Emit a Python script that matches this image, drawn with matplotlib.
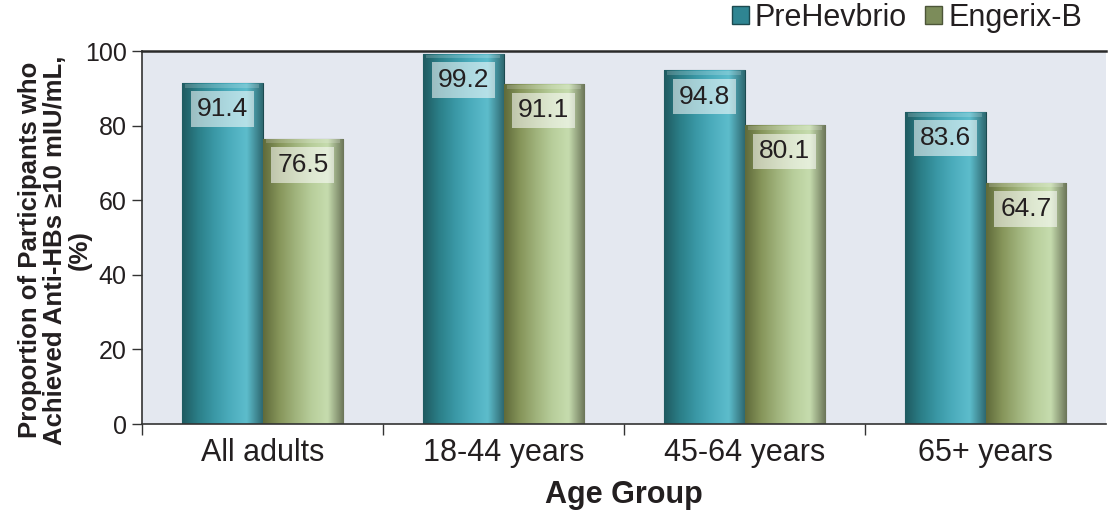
import numpy as np
import matplotlib.pyplot as plt
from matplotlib.colors import LinearSegmentedColormap
from matplotlib.patches import Patch

groups = ["All adults", "18-44 years", "45-64 years", "65+ years"]
prehevbrio = [91.4, 99.2, 94.8, 83.6]
engerix = [76.5, 91.1, 80.1, 64.7]

txt = "#231f20"
plt.rcParams["font.family"] = ["Liberation Sans", "DejaVu Sans"]

# shaded "cylinder" look for each series, dark left edge to light right edge
blue_cm = LinearSegmentedColormap.from_list(
    "blue", ["#1f5a60", "#2b7f88", "#3a98a6", "#4cadbd", "#5dbdcc", "#2e6870"])
green_cm = LinearSegmentedColormap.from_list(
    "green", ["#5f6a3a", "#86955a", "#a0b37c", "#b8ce9b", "#c6dcae", "#6b7558"])

fig = plt.figure(figsize=(11.08, 5.11), dpi=100)
ax = fig.add_axes([142 / 1108, 1 - 424 / 511, 964 / 1108, 373 / 511])
ax.set_facecolor("#e4e8f0")

x = np.arange(len(groups))
w = 0.335
bars_a = ax.bar(x - w / 2, prehevbrio, w, color="#3a96a4", edgecolor="#1c4a50",
                linewidth=0.8, zorder=2)
bars_b = ax.bar(x + w / 2, engerix, w, color="#9fb27a", edgecolor="#4c5538",
                linewidth=0.8, zorder=2)

grad = np.linspace(0, 1, 256).reshape(1, -1)
for bars, cm in ((bars_a, blue_cm), (bars_b, green_cm)):
    for p in bars:
        x0, h, bw = p.get_x(), p.get_height(), p.get_width()
        im = ax.imshow(grad, cmap=cm, aspect="auto", extent=[x0, x0 + bw, 0, h],
                       zorder=2.5, interpolation="bicubic")
        im.set_clip_path(p)
        # lighter strip along the top edge
        ax.fill_between([x0 + bw * 0.04, x0 + bw * 0.96], h - 1.2, h - 0.2,
                        color="white", alpha=0.18, lw=0, zorder=2.6)
        ax.text(x0 + bw / 2, h - 7, f"{h:.1f}", ha="center", va="center",
                fontsize=19, color=txt, zorder=4,
                bbox=dict(boxstyle="square,pad=0.22", fc="white", ec="none",
                          alpha=0.55))

ax.set_xlim(-0.5, 3.5)
ax.set_ylim(0, 100)
ax.set_yticks(range(0, 101, 20))
ax.set_xticks(x)
ax.set_xticklabels(groups)
ax.set_xticks(np.arange(-0.5, 3.0, 1), minor=True)
ax.tick_params(axis="x", which="major", length=0, pad=10, labelsize=22,
               labelcolor=txt)
ax.tick_params(axis="x", which="minor", length=8, width=1, color="#333333")
ax.tick_params(axis="y", length=7, width=1, color="#333333", labelsize=18,
               labelcolor=txt, pad=4)
for s in ("left", "bottom"):
    ax.spines[s].set_color("#333333")
    ax.spines[s].set_linewidth(1.2)
ax.spines["top"].set_color("#2a2a2a")
ax.spines["top"].set_linewidth(1.8)
ax.spines["right"].set_visible(False)

ax.set_xlabel("Age Group", fontsize=22, fontweight="bold", color=txt, labelpad=9)
fig.text(55 / 1108, 1 - 250 / 511,
         "Proportion of Participants who\nAchieved Anti-HBs \u226510 mIU/mL,\n(%)",
         rotation=90, ha="center", va="center", multialignment="center",
         fontsize=18.5, fontweight="bold", color=txt, linespacing=1.05)

handles = [Patch(facecolor="#2f8592", edgecolor="#1c4a50"),
           Patch(facecolor="#7c8c5a", edgecolor="#4c5538")]
fig.legend(handles, ["PreHevbrio", "Engerix-B"], loc="upper right",
           bbox_to_anchor=(1082 / 1108, 1 - 3 / 511), ncol=2, frameon=False,
           fontsize=22, handlelength=0.55, handleheight=0.55, handletextpad=0.2,
           columnspacing=0.6, borderpad=0, borderaxespad=0, labelcolor=txt)

fig.savefig("out.png", dpi=100, facecolor="white")
